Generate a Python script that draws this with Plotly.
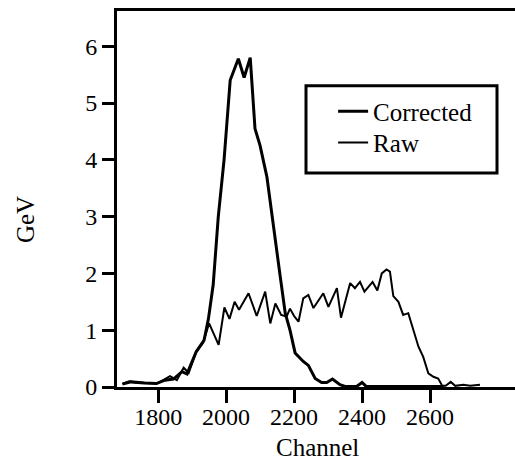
import plotly.graph_objects as go

# values
raw_channel = [1695, 1715, 1735, 1755, 1775, 1795, 1815, 1835, 1855, 1875, 1890,
               1912, 1932, 1950, 1978, 1995, 2010, 2025, 2038, 2066, 2090, 2115,
               2130, 2145, 2162, 2178, 2188, 2200, 2213, 2227, 2242, 2257, 2286,
               2301, 2326, 2338, 2365, 2379, 2394, 2407, 2431, 2445, 2458, 2472,
               2482, 2492, 2507, 2521, 2536, 2551, 2566, 2580, 2595, 2610, 2624,
               2636, 2646, 2661, 2674, 2698, 2718, 2747]
raw_gev = [0.06, 0.10, 0.08, 0.07, 0.07, 0.06, 0.12, 0.19, 0.12, 0.34, 0.25,
           0.62, 0.78, 1.12, 0.74, 1.40, 1.20, 1.50, 1.36, 1.65, 1.25, 1.68,
           1.12, 1.47, 1.27, 1.24, 1.38, 1.25, 1.15, 1.56, 1.62, 1.39, 1.65,
           1.41, 1.74, 1.22, 1.83, 1.74, 1.85, 1.68, 1.85, 1.70, 2.00, 2.07,
           2.03, 1.60, 1.50, 1.27, 1.30, 1.00, 0.71, 0.53, 0.24, 0.18, 0.15,
           0.02, 0.02, 0.09, 0.02, 0.04, 0.02, 0.04]

corr_channel = [1695, 1720, 1760, 1795, 1820, 1845, 1870, 1885, 1912, 1935, 1948,
                1962, 1977, 1994, 2012, 2036, 2053, 2071, 2085, 2100, 2120, 2135,
                2158, 2174, 2188, 2203, 2227, 2242, 2262, 2281, 2296, 2313, 2335,
                2350, 2384, 2400, 2412, 2640]
corr_gev = [0.05, 0.09, 0.07, 0.06, 0.12, 0.14, 0.27, 0.23, 0.62, 0.82, 1.20,
            1.80, 3.00, 4.00, 5.40, 5.78, 5.45, 5.80, 4.55, 4.25, 3.70, 3.00,
            2.00, 1.30, 1.00, 0.60, 0.45, 0.38, 0.15, 0.08, 0.08, 0.14, 0.04,
            0.01, 0.01, 0.08, 0.01, 0.01]

font = "Liberation Serif, Times New Roman, serif"

fig = go.Figure()
fig.add_trace(go.Scatter(x=corr_channel, y=corr_gev, mode="lines", name="Corrected",
                         line=dict(color="black", width=3), legend="legend"))
fig.add_trace(go.Scatter(x=raw_channel, y=raw_gev, mode="lines", name="Raw",
                         line=dict(color="black", width=2), legend="legend2"))

leg = dict(xanchor="left", yanchor="top", borderwidth=0,
           bgcolor="rgba(0,0,0,0)", font=dict(size=25))

W, H = 398, 376  # plot area in px
fig.update_layout(
    width=515, height=466,
    margin=dict(l=117, r=0, t=11, b=79),
    plot_bgcolor="white", paper_bgcolor="white",
    font=dict(family=font, size=24, color="black"),
    showlegend=True,
    legend=dict(x=0.543, y=0.794, **leg),
    legend2=dict(x=0.543, y=0.711, **leg),
    shapes=[dict(type="rect", xref="paper", yref="paper",
                 x0=(306 - 117) / W, x1=(497 - 117) / W, y0=0.569, y1=0.801,
                 line=dict(color="black", width=3), fillcolor="white", layer="below")],
    annotations=[
        dict(text="GeV", x=(25 - 117) / W, y=0.444, xref="paper", yref="paper",
             xanchor="center", yanchor="middle",
             showarrow=False, textangle=-90, font=dict(size=25)),
        dict(text="Channel", x=(317 - 117) / W, y=-60 / H, xref="paper", yref="paper",
             xanchor="center", yanchor="middle",
             showarrow=False, font=dict(size=25)),
    ],
)
fig.update_xaxes(range=[1679, 2850], tickvals=[1800, 2000, 2200, 2400, 2600],
                 showline=True, linecolor="black", linewidth=3, mirror=True,
                 ticks="outside", ticklen=13, tickwidth=2.5, tickcolor="black",
                 ticklabelstandoff=-7,
                 showgrid=False, zeroline=False)
fig.update_yaxes(range=[0, 6.62], tickvals=[0, 1, 2, 3, 4, 5, 6],
                 showline=True, linecolor="black", linewidth=3, mirror=False,
                 ticks="outside", ticklen=12, tickwidth=2.5, tickcolor="black",
                 showgrid=False, zeroline=False)

# drop the default page margin so the figure sits at the window's corner
fig.write_html("out.html", config={"displayModeBar": False}, post_script=(
    "document.body.style.margin='0';"
    "document.documentElement.style.overflow='hidden';"))
